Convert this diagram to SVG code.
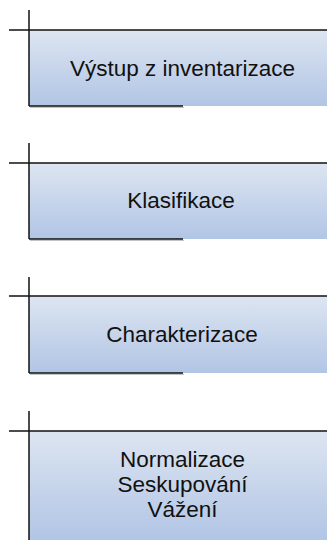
<svg xmlns="http://www.w3.org/2000/svg" width="327" height="540" viewBox="0 0 327 540">
<defs>
<linearGradient id="g" x1="0" y1="0" x2="0" y2="1">
<stop offset="0" stop-color="#dde5f1"/>
<stop offset="1" stop-color="#b1c5e5"/>
</linearGradient>
<style>
.box{fill:url(#g);}
.ln{stroke:#111;stroke-width:1.5;fill:none;}
.sh{stroke:#999;stroke-width:1;fill:none;opacity:0.6;}
.t{font-family:"Liberation Sans",Arial,sans-serif;font-size:22.5px;fill:#111;text-anchor:middle;}
</style>
</defs>
<rect width="327" height="540" fill="#fff"/>
<g id="node1">
<rect class="box" x="29" y="30" width="298" height="76"/>
<line class="sh" x1="30" y1="107.5" x2="184" y2="107.5"/>
<line class="ln" x1="9" y1="30" x2="327" y2="30"/>
<line class="ln" x1="29" y1="10" x2="29" y2="106"/>
<line class="ln" x1="29" y1="106" x2="183" y2="106"/>
<text class="t" x="182.5" y="76">Výstup z inventarizace</text>
</g>
<g id="node2">
<rect class="box" x="29" y="163" width="298" height="76"/>
<line class="sh" x1="30" y1="240.5" x2="184" y2="240.5"/>
<line class="ln" x1="9" y1="163" x2="327" y2="163"/>
<line class="ln" x1="29" y1="143" x2="29" y2="239"/>
<line class="ln" x1="29" y1="239" x2="183" y2="239"/>
<text class="t" x="181" y="208">Klasifikace</text>
</g>
<g id="node3">
<rect class="box" x="29" y="296" width="298" height="77"/>
<line class="sh" x1="30" y1="374.5" x2="184" y2="374.5"/>
<line class="ln" x1="9" y1="296" x2="327" y2="296"/>
<line class="ln" x1="29" y1="277" x2="29" y2="373"/>
<line class="ln" x1="29" y1="373" x2="183" y2="373"/>
<text class="t" x="182" y="342">Charakterizace</text>
</g>
<g id="node4">
<rect class="box" x="29" y="431" width="298" height="109"/>
<line class="ln" x1="9" y1="431" x2="327" y2="431"/>
<line class="ln" x1="29" y1="411" x2="29" y2="540"/>
<text class="t" x="182.5" y="467">Normalizace</text>
<text class="t" x="182.5" y="492">Seskupování</text>
<text class="t" x="182.5" y="517">Vážení</text>
</g>
</svg>
